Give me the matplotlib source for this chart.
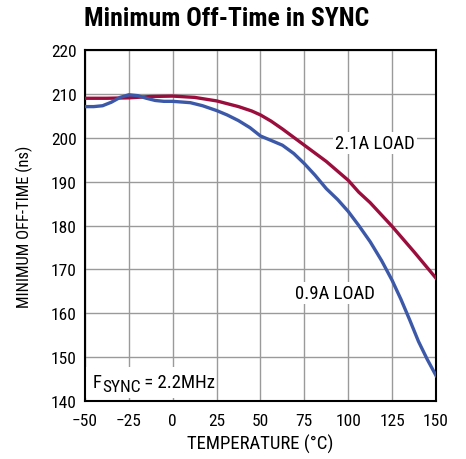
import matplotlib
matplotlib.use("Agg")
from matplotlib import pyplot as plt
from matplotlib.patches import Rectangle

plt.rcParams['font.family'] = ['Liberation Sans Narrow', 'Roboto Condensed', 'DejaVu Sans']
plt.rcParams['font.stretch'] = 'condensed'

# 2.1A load curve
temp_21 = [-50, -37.5, -25, -12.5, 0, 12.5, 25, 37.5, 45, 50, 56, 62.5, 75, 87.5, 100, 106, 112.5, 125, 137.5, 150]
off_21 = [209.0, 209.0, 209.1, 209.4, 209.5, 209.2, 208.4, 207.1, 206.1, 205.2, 203.8, 202.0, 198.3, 194.6, 190.3, 187.6, 185.2, 179.8, 174.0, 168.0]

# 0.9A load curve
temp_09 = [-50, -45, -40, -35, -30, -25, -20, -15, -10, -5, 0, 10, 17, 25, 31, 37.5, 44, 50, 56, 62.5, 69, 75, 81, 87.5, 94,
           100, 106, 112.5, 119, 125, 130, 135, 140, 145, 150]
off_09 = [207.1, 207.1, 207.3, 208.1, 209.2, 209.8, 209.6, 209.0, 208.5, 208.3, 208.3, 208.0, 207.3, 206.2, 205.2, 203.9, 202.3, 200.4, 199.4, 198.3, 196.4, 194.1, 191.5, 188.4, 185.9,
          183.2, 180.0, 176.3, 172.0, 167.5, 163.2, 158.5, 153.6, 149.5, 145.8]

x_ticks = [-50, -25, 0, 25, 50, 75, 100, 125, 150]
x_labels = ['\u221250', '\u221225', '0', '25', '50', '75', '100', '125', '150']
y_ticks = [140, 150, 160, 170, 180, 190, 200, 210, 220]

RED = '#9b0d3c'
BLUE = '#3c58a8'

fig = plt.figure(figsize=(4.66, 4.6), dpi=100)
ax = fig.add_axes([0.1824, 0.1261, 0.7532, 0.763])

ax.plot(temp_21, off_21, color=RED, lw=2.4, solid_joinstyle='round', zorder=3)
ax.plot(temp_09, off_09, color=BLUE, lw=2.4, solid_joinstyle='round', zorder=3)

ax.set_xlim(-50, 150)
ax.set_ylim(140, 220)
ax.set_xticks(x_ticks)
ax.set_xticklabels(x_labels)
ax.set_yticks(y_ticks)
ax.tick_params(length=0, labelsize=12.5)
ax.tick_params(axis='x', pad=9)
ax.tick_params(axis='y', pad=6)
ax.grid(True, color='#9a9a9a', lw=1.0)
ax.set_axisbelow(True)
for s in ax.spines.values():
    s.set_linewidth(1.5)
    s.set_color('black')

ax.set_xlabel('TEMPERATURE (\u00b0C)', fontsize=13.5, labelpad=4)
ax.set_ylabel('MINIMUM OFF-TIME (ns)', fontsize=12, labelpad=13)

box = dict(facecolor='white', edgecolor='none', pad=1.5)
ax.text(92.5, 198.8, '2.1A LOAD', fontsize=13.5, va='center', ha='left', bbox=box, zorder=4)
ax.text(69.5, 164.6, '0.9A LOAD', fontsize=13.5, va='center', ha='left', bbox=box, zorder=4)

# F_SYNC note with white patch behind it
ax.add_patch(Rectangle((-49.6, 140.6), 73.2, 7.2, facecolor='white', edgecolor='none', zorder=2))
renderer = fig.canvas.get_renderer()
x0, y0 = -45.5, 143.2
t_f = ax.text(x0, y0, 'F', fontsize=13.5, va='baseline', ha='left', zorder=4)
w_f = t_f.get_window_extent(renderer).width * 72 / fig.dpi
t_s = ax.annotate('SYNC', (x0, y0), xytext=(w_f, -3), textcoords='offset points',
                  fontsize=12.5, va='baseline', ha='left', zorder=4)
w_s = t_s.get_window_extent(renderer).width * 72 / fig.dpi
ax.annotate(' = 2.2MHz', (x0, y0), xytext=(w_f + w_s, 0), textcoords='offset points',
            fontsize=13.5, va='baseline', ha='left', zorder=4)

fig.text(0.487, 0.958, 'Minimum Off-Time in SYNC', fontsize=18.5, fontweight='bold',
         ha='center', va='center')

fig.savefig('out.png', dpi=100)
